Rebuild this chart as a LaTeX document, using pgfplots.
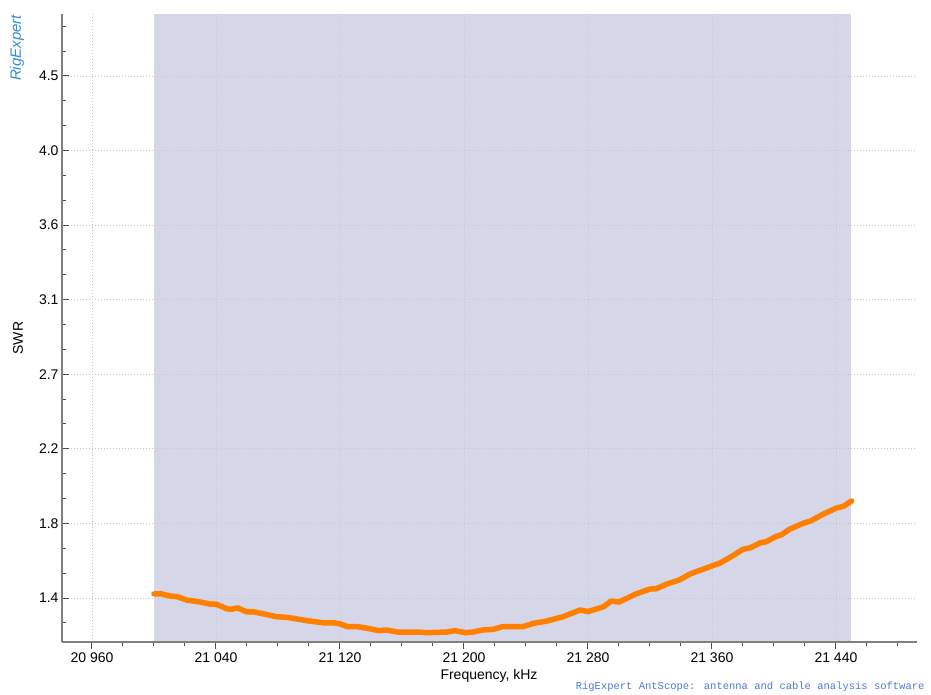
\documentclass[border=0pt]{standalone}
\usepackage{pgfplots}
\pgfplotsset{compat=1.18}
\usepackage{fontspec}
\setmainfont{Liberation Sans}
\newfontfamily\monofont{Liberation Mono}
\definecolor{swrline}{RGB}{255,127,0}
\definecolor{band}{RGB}{213,215,233}
\definecolor{spine}{RGB}{128,128,128}
\definecolor{logoblue}{RGB}{52,140,205}
\definecolor{footblue}{RGB}{80,120,210}

\begin{document}
\begin{tikzpicture}
\begin{axis}[
    at={(62pt,52pt)}, anchor=south west,
    scale only axis, width=855pt, height=628pt,
    set layers,
    xmin=20940.65, xmax=21492.3,
    ymin=1.1387, ymax=4.868,
    axis x line*=bottom, axis y line*=left,
    axis line style={draw=spine, line width=1.5pt, -},
    scaled x ticks=false,
    xtick={20960,21040,21120,21200,21280,21360,21440},
    xticklabels={20 960,21 040,21 120,21 200,21 280,21 360,21 440},
    minor xtick={20960,20980,...,21480},
    ytick={1.4,1.84286,2.28571,2.72857,3.17143,3.61429,4.05714,4.5},
    yticklabels={1.4,1.8,2.2,2.7,3.1,3.6,4.0,4.5},
    minor ytick={1.25238,1.54762,1.69524,1.99048,2.13810,2.43333,2.58095,
                 2.87619,3.02381,3.31905,3.46667,3.76190,3.90952,4.20476,
                 4.35238,4.64762,4.79524},
    xtick align=outside, ytick align=inside,
    major tick length=7pt, minor tick length=4pt,
    tick style={black!70, line width=1pt},
    grid=major,
    major grid style={dash pattern=on 0.9pt off 2.1pt, line width=0.9pt, black!22},
    tick label style={font=\fontsize{14}{16}\selectfont},
    label style={font=\fontsize{14}{16}\selectfont},
    xlabel={Frequency, kHz},
    ylabel={SWR},
    xlabel style={at={(axis description cs:0.4994,-0.0541)}, anchor=center},
    ylabel style={at={(axis description cs:-0.0515,0.484)}, anchor=center},
]
% analysed band
\addplot[draw=none, fill=band, on layer=axis background] coordinates {
    (21000,1.1387) (21450,1.1387) (21450,4.868) (21000,4.868)
} -- cycle;
% SWR sweep
\addplot[swrline, line width=5.5pt, line join=round, line cap=round] coordinates {
    (21000,1.424) (21005,1.424) (21010,1.412) (21015,1.408) (21021,1.388)
    (21030,1.376) (21036,1.364) (21040,1.364) (21047,1.336) (21050,1.333)
    (21054,1.341) (21060,1.317) (21065,1.317) (21073,1.301) (21079,1.289)
    (21086,1.285) (21099,1.265) (21109,1.253) (21116,1.253) (21120,1.246)
    (21125,1.230) (21131,1.230) (21139,1.218) (21145,1.206) (21150,1.210)
    (21157,1.198) (21170,1.198) (21176,1.194) (21189,1.198) (21194,1.206)
    (21201,1.194) (21206,1.198) (21212,1.210) (21219,1.214) (21225,1.230)
    (21238,1.230) (21245,1.250) (21253,1.262) (21264,1.289) (21275,1.329)
    (21280,1.319) (21290,1.348) (21295,1.382) (21300,1.376) (21311,1.424)
    (21320,1.453) (21324,1.455) (21331,1.483) (21339,1.507) (21346,1.543)
    (21354,1.570) (21361,1.594) (21365,1.606) (21374,1.654) (21380,1.689)
    (21385,1.699) (21391,1.727) (21395,1.734) (21401,1.764) (21405,1.776)
    (21410,1.808) (21419,1.844) (21424,1.859) (21432,1.899) (21440,1.933)
    (21445,1.945) (21450,1.976)
};
\end{axis}
\node[rotate=90, text=logoblue, font=\fontsize{15}{15}\selectfont\itshape] at (17pt,646pt) {RigExpert};
\node[anchor=east, text=footblue, font=\monofont\fontsize{10.5}{12}\selectfont] at (928pt,7pt)
    {RigExpert AntScope: antenna and cable analysis software};
\pgfresetboundingbox
\useasboundingbox (0pt,0pt) rectangle (931pt,694pt);
\end{tikzpicture}
\end{document}
